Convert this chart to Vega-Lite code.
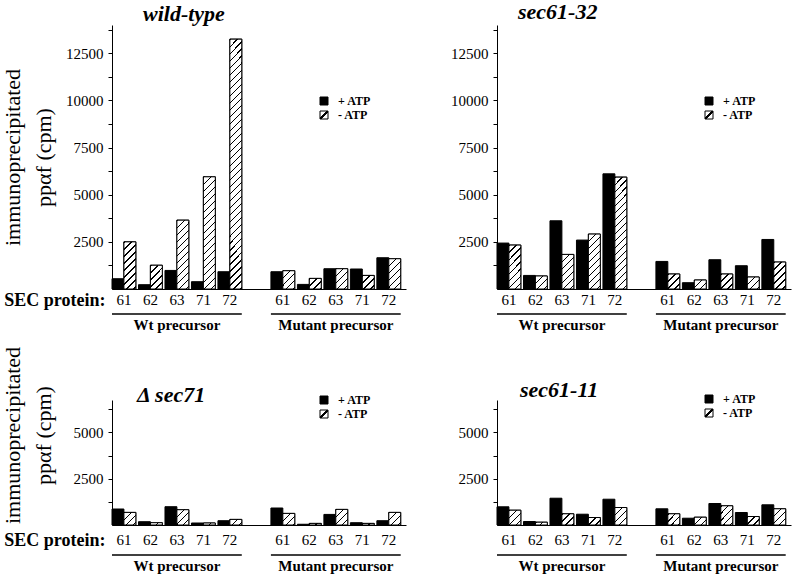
{
  "$schema": "https://vega.github.io/schema/vega-lite/v6.json",
  "padding": {"left": 0, "top": 1, "right": 5, "bottom": 5},
  "bounds": "flush",
  "align": "all",
  "columns": 2,
  "spacing": {"row": 111, "column": 91},
  "params": [
    {"name": "hatchLegend", "value": {"gradient": "linear", "x1": 0, "y1": 0, "x2": 1, "y2": 1, "stops": [{"offset": 0, "color": "#fff"}, {"offset": 0.43, "color": "#fff"}, {"offset": 0.43, "color": "#000"}, {"offset": 0.57, "color": "#000"}, {"offset": 0.57, "color": "#fff"}, {"offset": 1, "color": "#fff"}]}},
    {"name": "hatchStops", "value": [
      {"offset": 0, "color": "#000"}, {"offset": 0.005, "color": "#000"}, {"offset": 0.005, "color": "#fff"}, {"offset": 0.025, "color": "#fff"},
      {"offset": 0.025, "color": "#000"}, {"offset": 0.03, "color": "#000"}, {"offset": 0.03, "color": "#fff"}, {"offset": 0.05, "color": "#fff"},
      {"offset": 0.05, "color": "#000"}, {"offset": 0.055, "color": "#000"}, {"offset": 0.055, "color": "#fff"}, {"offset": 0.075, "color": "#fff"},
      {"offset": 0.075, "color": "#000"}, {"offset": 0.08, "color": "#000"}, {"offset": 0.08, "color": "#fff"}, {"offset": 0.1, "color": "#fff"},
      {"offset": 0.1, "color": "#000"}, {"offset": 0.105, "color": "#000"}, {"offset": 0.105, "color": "#fff"}, {"offset": 0.125, "color": "#fff"},
      {"offset": 0.125, "color": "#000"}, {"offset": 0.13, "color": "#000"}, {"offset": 0.13, "color": "#fff"}, {"offset": 0.15, "color": "#fff"},
      {"offset": 0.15, "color": "#000"}, {"offset": 0.155, "color": "#000"}, {"offset": 0.155, "color": "#fff"}, {"offset": 0.175, "color": "#fff"},
      {"offset": 0.175, "color": "#000"}, {"offset": 0.18, "color": "#000"}, {"offset": 0.18, "color": "#fff"}, {"offset": 0.2, "color": "#fff"},
      {"offset": 0.2, "color": "#000"}, {"offset": 0.205, "color": "#000"}, {"offset": 0.205, "color": "#fff"}, {"offset": 0.225, "color": "#fff"},
      {"offset": 0.225, "color": "#000"}, {"offset": 0.23, "color": "#000"}, {"offset": 0.23, "color": "#fff"}, {"offset": 0.25, "color": "#fff"},
      {"offset": 0.25, "color": "#000"}, {"offset": 0.255, "color": "#000"}, {"offset": 0.255, "color": "#fff"}, {"offset": 0.275, "color": "#fff"},
      {"offset": 0.275, "color": "#000"}, {"offset": 0.28, "color": "#000"}, {"offset": 0.28, "color": "#fff"}, {"offset": 0.3, "color": "#fff"},
      {"offset": 0.3, "color": "#000"}, {"offset": 0.305, "color": "#000"}, {"offset": 0.305, "color": "#fff"}, {"offset": 0.325, "color": "#fff"},
      {"offset": 0.325, "color": "#000"}, {"offset": 0.33, "color": "#000"}, {"offset": 0.33, "color": "#fff"}, {"offset": 0.35, "color": "#fff"},
      {"offset": 0.35, "color": "#000"}, {"offset": 0.355, "color": "#000"}, {"offset": 0.355, "color": "#fff"}, {"offset": 0.375, "color": "#fff"},
      {"offset": 0.375, "color": "#000"}, {"offset": 0.38, "color": "#000"}, {"offset": 0.38, "color": "#fff"}, {"offset": 0.4, "color": "#fff"},
      {"offset": 0.4, "color": "#000"}, {"offset": 0.405, "color": "#000"}, {"offset": 0.405, "color": "#fff"}, {"offset": 0.425, "color": "#fff"},
      {"offset": 0.425, "color": "#000"}, {"offset": 0.43, "color": "#000"}, {"offset": 0.43, "color": "#fff"}, {"offset": 0.45, "color": "#fff"},
      {"offset": 0.45, "color": "#000"}, {"offset": 0.455, "color": "#000"}, {"offset": 0.455, "color": "#fff"}, {"offset": 0.475, "color": "#fff"},
      {"offset": 0.475, "color": "#000"}, {"offset": 0.48, "color": "#000"}, {"offset": 0.48, "color": "#fff"}, {"offset": 0.5, "color": "#fff"},
      {"offset": 0.5, "color": "#000"}, {"offset": 0.505, "color": "#000"}, {"offset": 0.505, "color": "#fff"}, {"offset": 0.525, "color": "#fff"},
      {"offset": 0.525, "color": "#000"}, {"offset": 0.53, "color": "#000"}, {"offset": 0.53, "color": "#fff"}, {"offset": 0.55, "color": "#fff"},
      {"offset": 0.55, "color": "#000"}, {"offset": 0.555, "color": "#000"}, {"offset": 0.555, "color": "#fff"}, {"offset": 0.575, "color": "#fff"},
      {"offset": 0.575, "color": "#000"}, {"offset": 0.58, "color": "#000"}, {"offset": 0.58, "color": "#fff"}, {"offset": 0.6, "color": "#fff"},
      {"offset": 0.6, "color": "#000"}, {"offset": 0.605, "color": "#000"}, {"offset": 0.605, "color": "#fff"}, {"offset": 0.625, "color": "#fff"},
      {"offset": 0.625, "color": "#000"}, {"offset": 0.63, "color": "#000"}, {"offset": 0.63, "color": "#fff"}, {"offset": 0.65, "color": "#fff"},
      {"offset": 0.65, "color": "#000"}, {"offset": 0.655, "color": "#000"}, {"offset": 0.655, "color": "#fff"}, {"offset": 0.675, "color": "#fff"},
      {"offset": 0.675, "color": "#000"}, {"offset": 0.68, "color": "#000"}, {"offset": 0.68, "color": "#fff"}, {"offset": 0.7, "color": "#fff"},
      {"offset": 0.7, "color": "#000"}, {"offset": 0.705, "color": "#000"}, {"offset": 0.705, "color": "#fff"}, {"offset": 0.725, "color": "#fff"},
      {"offset": 0.725, "color": "#000"}, {"offset": 0.73, "color": "#000"}, {"offset": 0.73, "color": "#fff"}, {"offset": 0.75, "color": "#fff"},
      {"offset": 0.75, "color": "#000"}, {"offset": 0.755, "color": "#000"}, {"offset": 0.755, "color": "#fff"}, {"offset": 0.775, "color": "#fff"},
      {"offset": 0.775, "color": "#000"}, {"offset": 0.78, "color": "#000"}, {"offset": 0.78, "color": "#fff"}, {"offset": 0.8, "color": "#fff"},
      {"offset": 0.8, "color": "#000"}, {"offset": 0.805, "color": "#000"}, {"offset": 0.805, "color": "#fff"}, {"offset": 0.825, "color": "#fff"},
      {"offset": 0.825, "color": "#000"}, {"offset": 0.83, "color": "#000"}, {"offset": 0.83, "color": "#fff"}, {"offset": 0.85, "color": "#fff"},
      {"offset": 0.85, "color": "#000"}, {"offset": 0.855, "color": "#000"}, {"offset": 0.855, "color": "#fff"}, {"offset": 0.875, "color": "#fff"},
      {"offset": 0.875, "color": "#000"}, {"offset": 0.88, "color": "#000"}, {"offset": 0.88, "color": "#fff"}, {"offset": 0.9, "color": "#fff"},
      {"offset": 0.9, "color": "#000"}, {"offset": 0.905, "color": "#000"}, {"offset": 0.905, "color": "#fff"}, {"offset": 0.925, "color": "#fff"},
      {"offset": 0.925, "color": "#000"}, {"offset": 0.93, "color": "#000"}, {"offset": 0.93, "color": "#fff"}, {"offset": 0.95, "color": "#fff"},
      {"offset": 0.95, "color": "#000"}, {"offset": 0.955, "color": "#000"}, {"offset": 0.955, "color": "#fff"}, {"offset": 0.975, "color": "#fff"},
      {"offset": 0.975, "color": "#000"}, {"offset": 0.98, "color": "#000"}, {"offset": 0.98, "color": "#fff"}, {"offset": 1, "color": "#fff"}
    ]}
  ],
  "datasets": {
    "bars": [
      {"strain": "wild-type", "slot": "Wt 61", "atp": "+ ATP", "cpm": 545},
      {"strain": "wild-type", "slot": "Wt 61", "atp": "- ATP", "cpm": 2500},
      {"strain": "wild-type", "slot": "Wt 62", "atp": "+ ATP", "cpm": 228},
      {"strain": "wild-type", "slot": "Wt 62", "atp": "- ATP", "cpm": 1260},
      {"strain": "wild-type", "slot": "Wt 63", "atp": "+ ATP", "cpm": 985},
      {"strain": "wild-type", "slot": "Wt 63", "atp": "- ATP", "cpm": 3650},
      {"strain": "wild-type", "slot": "Wt 71", "atp": "+ ATP", "cpm": 387},
      {"strain": "wild-type", "slot": "Wt 71", "atp": "- ATP", "cpm": 5950},
      {"strain": "wild-type", "slot": "Wt 72", "atp": "+ ATP", "cpm": 916},
      {"strain": "wild-type", "slot": "Wt 72", "atp": "- ATP", "cpm": 13250},
      {"strain": "wild-type", "slot": "Mut 61", "atp": "+ ATP", "cpm": 916},
      {"strain": "wild-type", "slot": "Mut 61", "atp": "- ATP", "cpm": 969},
      {"strain": "wild-type", "slot": "Mut 62", "atp": "+ ATP", "cpm": 244},
      {"strain": "wild-type", "slot": "Mut 62", "atp": "- ATP", "cpm": 561},
      {"strain": "wild-type", "slot": "Mut 63", "atp": "+ ATP", "cpm": 1075},
      {"strain": "wild-type", "slot": "Mut 63", "atp": "- ATP", "cpm": 1075},
      {"strain": "wild-type", "slot": "Mut 71", "atp": "+ ATP", "cpm": 1060},
      {"strain": "wild-type", "slot": "Mut 71", "atp": "- ATP", "cpm": 720},
      {"strain": "wild-type", "slot": "Mut 72", "atp": "+ ATP", "cpm": 1658},
      {"strain": "wild-type", "slot": "Mut 72", "atp": "- ATP", "cpm": 1605},
      {"strain": "sec61-32", "slot": "Wt 61", "atp": "+ ATP", "cpm": 2436},
      {"strain": "sec61-32", "slot": "Wt 61", "atp": "- ATP", "cpm": 2330},
      {"strain": "sec61-32", "slot": "Wt 62", "atp": "+ ATP", "cpm": 720},
      {"strain": "sec61-32", "slot": "Wt 62", "atp": "- ATP", "cpm": 690},
      {"strain": "sec61-32", "slot": "Wt 63", "atp": "+ ATP", "cpm": 3617},
      {"strain": "sec61-32", "slot": "Wt 63", "atp": "- ATP", "cpm": 1833},
      {"strain": "sec61-32", "slot": "Wt 71", "atp": "+ ATP", "cpm": 2595},
      {"strain": "sec61-32", "slot": "Wt 71", "atp": "- ATP", "cpm": 2913},
      {"strain": "sec61-32", "slot": "Wt 72", "atp": "+ ATP", "cpm": 6107},
      {"strain": "sec61-32", "slot": "Wt 72", "atp": "- ATP", "cpm": 5932},
      {"strain": "sec61-32", "slot": "Mut 61", "atp": "+ ATP", "cpm": 1462},
      {"strain": "sec61-32", "slot": "Mut 61", "atp": "- ATP", "cpm": 795},
      {"strain": "sec61-32", "slot": "Mut 62", "atp": "+ ATP", "cpm": 334},
      {"strain": "sec61-32", "slot": "Mut 62", "atp": "- ATP", "cpm": 477},
      {"strain": "sec61-32", "slot": "Mut 63", "atp": "+ ATP", "cpm": 1552},
      {"strain": "sec61-32", "slot": "Mut 63", "atp": "- ATP", "cpm": 795},
      {"strain": "sec61-32", "slot": "Mut 71", "atp": "+ ATP", "cpm": 1234},
      {"strain": "sec61-32", "slot": "Mut 71", "atp": "- ATP", "cpm": 636},
      {"strain": "sec61-32", "slot": "Mut 72", "atp": "+ ATP", "cpm": 2627},
      {"strain": "sec61-32", "slot": "Mut 72", "atp": "- ATP", "cpm": 1430},
      {"strain": "Δ sec71", "slot": "Wt 61", "atp": "+ ATP", "cpm": 864},
      {"strain": "Δ sec71", "slot": "Wt 61", "atp": "- ATP", "cpm": 680},
      {"strain": "Δ sec71", "slot": "Wt 62", "atp": "+ ATP", "cpm": 178},
      {"strain": "Δ sec71", "slot": "Wt 62", "atp": "- ATP", "cpm": 124},
      {"strain": "Δ sec71", "slot": "Wt 63", "atp": "+ ATP", "cpm": 988},
      {"strain": "Δ sec71", "slot": "Wt 63", "atp": "- ATP", "cpm": 826},
      {"strain": "Δ sec71", "slot": "Wt 71", "atp": "+ ATP", "cpm": 108},
      {"strain": "Δ sec71", "slot": "Wt 71", "atp": "- ATP", "cpm": 108},
      {"strain": "Δ sec71", "slot": "Wt 72", "atp": "+ ATP", "cpm": 232},
      {"strain": "Δ sec71", "slot": "Wt 72", "atp": "- ATP", "cpm": 302},
      {"strain": "Δ sec71", "slot": "Mut 61", "atp": "+ ATP", "cpm": 918},
      {"strain": "Δ sec71", "slot": "Mut 61", "atp": "- ATP", "cpm": 626},
      {"strain": "Δ sec71", "slot": "Mut 62", "atp": "+ ATP", "cpm": 40},
      {"strain": "Δ sec71", "slot": "Mut 62", "atp": "- ATP", "cpm": 86},
      {"strain": "Δ sec71", "slot": "Mut 63", "atp": "+ ATP", "cpm": 572},
      {"strain": "Δ sec71", "slot": "Mut 63", "atp": "- ATP", "cpm": 842},
      {"strain": "Δ sec71", "slot": "Mut 71", "atp": "+ ATP", "cpm": 124},
      {"strain": "Δ sec71", "slot": "Mut 71", "atp": "- ATP", "cpm": 86},
      {"strain": "Δ sec71", "slot": "Mut 72", "atp": "+ ATP", "cpm": 232},
      {"strain": "Δ sec71", "slot": "Mut 72", "atp": "- ATP", "cpm": 680},
      {"strain": "sec61-11", "slot": "Wt 61", "atp": "+ ATP", "cpm": 983},
      {"strain": "sec61-11", "slot": "Wt 61", "atp": "- ATP", "cpm": 799},
      {"strain": "sec61-11", "slot": "Wt 62", "atp": "+ ATP", "cpm": 189},
      {"strain": "sec61-11", "slot": "Wt 62", "atp": "- ATP", "cpm": 151},
      {"strain": "sec61-11", "slot": "Wt 63", "atp": "+ ATP", "cpm": 1447},
      {"strain": "sec61-11", "slot": "Wt 63", "atp": "- ATP", "cpm": 605},
      {"strain": "sec61-11", "slot": "Wt 71", "atp": "+ ATP", "cpm": 583},
      {"strain": "sec61-11", "slot": "Wt 71", "atp": "- ATP", "cpm": 405},
      {"strain": "sec61-11", "slot": "Wt 72", "atp": "+ ATP", "cpm": 1393},
      {"strain": "sec61-11", "slot": "Wt 72", "atp": "- ATP", "cpm": 945},
      {"strain": "sec61-11", "slot": "Mut 61", "atp": "+ ATP", "cpm": 875},
      {"strain": "sec61-11", "slot": "Mut 61", "atp": "- ATP", "cpm": 605},
      {"strain": "sec61-11", "slot": "Mut 62", "atp": "+ ATP", "cpm": 367},
      {"strain": "sec61-11", "slot": "Mut 62", "atp": "- ATP", "cpm": 421},
      {"strain": "sec61-11", "slot": "Mut 63", "atp": "+ ATP", "cpm": 1161},
      {"strain": "sec61-11", "slot": "Mut 63", "atp": "- ATP", "cpm": 1037},
      {"strain": "sec61-11", "slot": "Mut 71", "atp": "+ ATP", "cpm": 675},
      {"strain": "sec61-11", "slot": "Mut 71", "atp": "- ATP", "cpm": 459},
      {"strain": "sec61-11", "slot": "Mut 72", "atp": "+ ATP", "cpm": 1091},
      {"strain": "sec61-11", "slot": "Mut 72", "atp": "- ATP", "cpm": 875}
    ],
    "groups": [
      {"label": "Wt precursor", "first": "Wt 61", "mid": "Wt 63", "last": "Wt 72"},
      {"label": "Mutant precursor", "first": "Mut 61", "mid": "Mut 63", "last": "Mut 72"}
    ]
  },
  "resolve": {"scale": {"x": "independent", "y": "independent", "fill": "independent"}, "legend": {"fill": "independent"}},
  "concat": [
    {
      "width": 294, "height": 264,
      "title": {"text": "wild-type", "anchor": "start", "frame": "group", "dx": 31, "offset": -18, "baseline": "alphabetic", "font": "Liberation Serif", "fontSize": 22, "fontStyle": "italic", "fontWeight": "bold", "color": "black"},
      "encoding": {
        "x": {"field": "slot", "type": "nominal", "scale": {"domain": ["Wt 61", "Wt 62", "Wt 63", "Wt 71", "Wt 72", " ", "Mut 61", "Mut 62", "Mut 63", "Mut 71", "Mut 72"], "paddingInner": 0.1, "paddingOuter": 0.1, "align": 0},
          "axis": {"title": "SEC protein:", "titleX": -7, "titleY": 16, "titleAlign": "right", "titleBaseline": "alphabetic", "titleFontSize": 18, "titleFontWeight": "bold", "ticks": false, "labelPadding": 3, "labelAngle": 0, "labelExpr": "datum.value === ' ' ? '' : slice(datum.value, -2)"}},
        "xOffset": {"field": "atp", "type": "nominal", "scale": {"domain": ["+ ATP", "- ATP"], "paddingInner": 0, "paddingOuter": 0}},
        "y": {"field": "cpm", "type": "quantitative", "scale": {"domain": [0, 14000], "nice": false},
          "axis": {"title": ["immunoprecipitated", "ppαf (cpm)"], "titleFontSize": 22, "titleFontWeight": "normal", "titleLineHeight": 31, "titleX": -88, "titleY": 132, "values": [1250, 2500, 3750, 5000, 6250, 7500, 8750, 10000, 11250, 12500, 13750], "format": "d", "labelExpr": "datum.value % 2500 === 0 ? datum.label : ''"}}
      },
      "layer": [
        {
          "data": {"name": "bars"},
          "transform": [{"filter": "datum.strain === 'wild-type'"}],
          "mark": {"type": "bar", "stroke": "black", "strokeWidth": 1},
          "encoding": {
            "fill": {"field": "atp", "type": "nominal", "scale": {"domain": ["+ ATP", "- ATP"], "range": ["black", {"expr": "hatchLegend"}]},
              "legend": {"orient": "none", "legendX": 206, "legendY": 70}}
          }
        },
        {
          "data": {"name": "bars"},
          "transform": [{"filter": "datum.strain === 'wild-type' && datum.atp === '- ATP'"}],
          "mark": {"type": "bar", "stroke": "black", "strokeWidth": 1},
          "encoding": {
            "fill": {"value": {"expr": "{gradient: 'linear', x1: 0, y1: 0, x2: 280 * 12 / (144 + pow(datum.cpm * 0.0188, 2)), y2: 280 * datum.cpm * 0.0188 / (144 + pow(datum.cpm * 0.0188, 2)), stops: hatchStops}"}}
          }
        },
        {
          "data": {"name": "groups"},
          "mark": {"type": "rule", "color": "black", "strokeWidth": 1.3, "yOffset": 25},
          "encoding": {"x": {"field": "first", "type": "nominal", "bandPosition": 0}, "x2": {"field": "last", "bandPosition": 1}, "xOffset": null, "y": {"value": "height"}}
        },
        {
          "data": {"name": "groups"},
          "mark": {"type": "text", "font": "Liberation Serif", "fontWeight": "bold", "fontSize": 15, "baseline": "alphabetic", "color": "black", "yOffset": 41},
          "encoding": {"x": {"field": "mid", "type": "nominal"}, "xOffset": null, "y": {"value": "height"}, "text": {"field": "label"}}
        }
      ]
    },
    {
      "width": 294, "height": 264,
      "title": {"text": "sec61-32", "anchor": "start", "frame": "group", "dx": 21, "offset": -16, "baseline": "alphabetic", "font": "Liberation Serif", "fontSize": 22, "fontStyle": "italic", "fontWeight": "bold", "color": "black"},
      "encoding": {
        "x": {"field": "slot", "type": "nominal", "scale": {"domain": ["Wt 61", "Wt 62", "Wt 63", "Wt 71", "Wt 72", " ", "Mut 61", "Mut 62", "Mut 63", "Mut 71", "Mut 72"], "paddingInner": 0.1, "paddingOuter": 0.1, "align": 0},
          "axis": {"title": null, "ticks": false, "labelPadding": 3, "labelAngle": 0, "labelExpr": "datum.value === ' ' ? '' : slice(datum.value, -2)"}},
        "xOffset": {"field": "atp", "type": "nominal", "scale": {"domain": ["+ ATP", "- ATP"], "paddingInner": 0, "paddingOuter": 0}},
        "y": {"field": "cpm", "type": "quantitative", "scale": {"domain": [0, 14000], "nice": false},
          "axis": {"title": null, "values": [1250, 2500, 3750, 5000, 6250, 7500, 8750, 10000, 11250, 12500, 13750], "format": "d", "labelExpr": "datum.value % 2500 === 0 ? datum.label : ''"}}
      },
      "layer": [
        {
          "data": {"name": "bars"},
          "transform": [{"filter": "datum.strain === 'sec61-32'"}],
          "mark": {"type": "bar", "stroke": "black", "strokeWidth": 1},
          "encoding": {
            "fill": {"field": "atp", "type": "nominal", "scale": {"domain": ["+ ATP", "- ATP"], "range": ["black", {"expr": "hatchLegend"}]},
              "legend": {"orient": "none", "legendX": 206, "legendY": 70}}
          }
        },
        {
          "data": {"name": "bars"},
          "transform": [{"filter": "datum.strain === 'sec61-32' && datum.atp === '- ATP'"}],
          "mark": {"type": "bar", "stroke": "black", "strokeWidth": 1},
          "encoding": {
            "fill": {"value": {"expr": "{gradient: 'linear', x1: 0, y1: 0, x2: 280 * 12 / (144 + pow(datum.cpm * 0.0188, 2)), y2: 280 * datum.cpm * 0.0188 / (144 + pow(datum.cpm * 0.0188, 2)), stops: hatchStops}"}}
          }
        },
        {
          "data": {"name": "groups"},
          "mark": {"type": "rule", "color": "black", "strokeWidth": 1.3, "yOffset": 25},
          "encoding": {"x": {"field": "first", "type": "nominal", "bandPosition": 0}, "x2": {"field": "last", "bandPosition": 1}, "xOffset": null, "y": {"value": "height"}}
        },
        {
          "data": {"name": "groups"},
          "mark": {"type": "text", "font": "Liberation Serif", "fontWeight": "bold", "fontSize": 15, "baseline": "alphabetic", "color": "black", "yOffset": 41},
          "encoding": {"x": {"field": "mid", "type": "nominal"}, "xOffset": null, "y": {"value": "height"}, "text": {"field": "label"}}
        }
      ]
    },
    {
      "width": 294, "height": 125,
      "title": {"text": "Δ sec71", "anchor": "start", "frame": "group", "dx": 25, "offset": -78, "baseline": "alphabetic", "font": "Liberation Serif", "fontSize": 22, "fontStyle": "italic", "fontWeight": "bold", "color": "black"},
      "encoding": {
        "x": {"field": "slot", "type": "nominal", "scale": {"domain": ["Wt 61", "Wt 62", "Wt 63", "Wt 71", "Wt 72", " ", "Mut 61", "Mut 62", "Mut 63", "Mut 71", "Mut 72"], "paddingInner": 0.1, "paddingOuter": 0.1, "align": 0},
          "axis": {"title": "SEC protein:", "titleX": -7, "titleY": 20, "titleAlign": "right", "titleBaseline": "alphabetic", "titleFontSize": 18, "titleFontWeight": "bold", "ticks": false, "labelPadding": 7, "labelAngle": 0, "labelExpr": "datum.value === ' ' ? '' : slice(datum.value, -2)"}},
        "xOffset": {"field": "atp", "type": "nominal", "scale": {"domain": ["+ ATP", "- ATP"], "paddingInner": 0, "paddingOuter": 0}},
        "y": {"field": "cpm", "type": "quantitative", "scale": {"domain": [0, 6750], "nice": false},
          "axis": {"title": ["immunoprecipitated", "ppαf (cpm)"], "titleFontSize": 22, "titleFontWeight": "normal", "titleLineHeight": 31, "titleX": -88, "titleY": 35, "values": [1250, 2500, 3750, 5000, 6250], "format": "d", "labelExpr": "datum.value % 2500 === 0 ? datum.label : ''"}}
      },
      "layer": [
        {
          "data": {"name": "bars"},
          "transform": [{"filter": "datum.strain === 'Δ sec71'"}],
          "mark": {"type": "bar", "stroke": "black", "strokeWidth": 1},
          "encoding": {
            "fill": {"field": "atp", "type": "nominal", "scale": {"domain": ["+ ATP", "- ATP"], "range": ["black", {"expr": "hatchLegend"}]},
              "legend": {"orient": "none", "legendX": 206, "legendY": -6}}
          }
        },
        {
          "data": {"name": "bars"},
          "transform": [{"filter": "datum.strain === 'Δ sec71' && datum.atp === '- ATP'"}],
          "mark": {"type": "bar", "stroke": "black", "strokeWidth": 1},
          "encoding": {
            "fill": {"value": {"expr": "{gradient: 'linear', x1: 0, y1: 0, x2: 280 * 12 / (144 + pow(datum.cpm * 0.0185, 2)), y2: 280 * datum.cpm * 0.0185 / (144 + pow(datum.cpm * 0.0185, 2)), stops: hatchStops}"}}
          }
        },
        {
          "data": {"name": "groups"},
          "mark": {"type": "rule", "color": "black", "strokeWidth": 1.3, "yOffset": 30},
          "encoding": {"x": {"field": "first", "type": "nominal", "bandPosition": 0}, "x2": {"field": "last", "bandPosition": 1}, "xOffset": null, "y": {"value": "height"}}
        },
        {
          "data": {"name": "groups"},
          "mark": {"type": "text", "font": "Liberation Serif", "fontWeight": "bold", "fontSize": 15, "baseline": "alphabetic", "color": "black", "yOffset": 46},
          "encoding": {"x": {"field": "mid", "type": "nominal"}, "xOffset": null, "y": {"value": "height"}, "text": {"field": "label"}}
        }
      ]
    },
    {
      "width": 294, "height": 125,
      "title": {"text": "sec61-11", "anchor": "start", "frame": "group", "dx": 23, "offset": -26, "baseline": "alphabetic", "font": "Liberation Serif", "fontSize": 22, "fontStyle": "italic", "fontWeight": "bold", "color": "black"},
      "encoding": {
        "x": {"field": "slot", "type": "nominal", "scale": {"domain": ["Wt 61", "Wt 62", "Wt 63", "Wt 71", "Wt 72", " ", "Mut 61", "Mut 62", "Mut 63", "Mut 71", "Mut 72"], "paddingInner": 0.1, "paddingOuter": 0.1, "align": 0},
          "axis": {"title": null, "ticks": false, "labelPadding": 7, "labelAngle": 0, "labelExpr": "datum.value === ' ' ? '' : slice(datum.value, -2)"}},
        "xOffset": {"field": "atp", "type": "nominal", "scale": {"domain": ["+ ATP", "- ATP"], "paddingInner": 0, "paddingOuter": 0}},
        "y": {"field": "cpm", "type": "quantitative", "scale": {"domain": [0, 6750], "nice": false},
          "axis": {"title": null, "values": [1250, 2500, 3750, 5000, 6250], "format": "d", "labelExpr": "datum.value % 2500 === 0 ? datum.label : ''"}}
      },
      "layer": [
        {
          "data": {"name": "bars"},
          "transform": [{"filter": "datum.strain === 'sec61-11'"}],
          "mark": {"type": "bar", "stroke": "black", "strokeWidth": 1},
          "encoding": {
            "fill": {"field": "atp", "type": "nominal", "scale": {"domain": ["+ ATP", "- ATP"], "range": ["black", {"expr": "hatchLegend"}]},
              "legend": {"orient": "none", "legendX": 206, "legendY": -7}}
          }
        },
        {
          "data": {"name": "bars"},
          "transform": [{"filter": "datum.strain === 'sec61-11' && datum.atp === '- ATP'"}],
          "mark": {"type": "bar", "stroke": "black", "strokeWidth": 1},
          "encoding": {
            "fill": {"value": {"expr": "{gradient: 'linear', x1: 0, y1: 0, x2: 280 * 12 / (144 + pow(datum.cpm * 0.0185, 2)), y2: 280 * datum.cpm * 0.0185 / (144 + pow(datum.cpm * 0.0185, 2)), stops: hatchStops}"}}
          }
        },
        {
          "data": {"name": "groups"},
          "mark": {"type": "rule", "color": "black", "strokeWidth": 1.3, "yOffset": 30},
          "encoding": {"x": {"field": "first", "type": "nominal", "bandPosition": 0}, "x2": {"field": "last", "bandPosition": 1}, "xOffset": null, "y": {"value": "height"}}
        },
        {
          "data": {"name": "groups"},
          "mark": {"type": "text", "font": "Liberation Serif", "fontWeight": "bold", "fontSize": 15, "baseline": "alphabetic", "color": "black", "yOffset": 46},
          "encoding": {"x": {"field": "mid", "type": "nominal"}, "xOffset": null, "y": {"value": "height"}, "text": {"field": "label"}}
        }
      ]
    }
  ],
  "config": {
    "view": {"stroke": null},
    "font": "Liberation Serif",
    "axis": {"grid": false, "domainColor": "black", "domainWidth": 1, "tickColor": "black", "labelColor": "black", "titleColor": "black", "labelFont": "Liberation Serif", "titleFont": "Liberation Serif", "labelFontSize": 15},
    "axisY": {"tickSize": 4, "labelPadding": 5},
    "legend": {"title": null, "symbolType": "square", "symbolSize": 64, "symbolStrokeWidth": 1, "symbolStrokeColor": "black", "labelFont": "Liberation Serif", "labelFontWeight": "bold", "labelFontSize": 12, "labelColor": "black", "labelOffset": 8, "rowPadding": 2}
  }
}
